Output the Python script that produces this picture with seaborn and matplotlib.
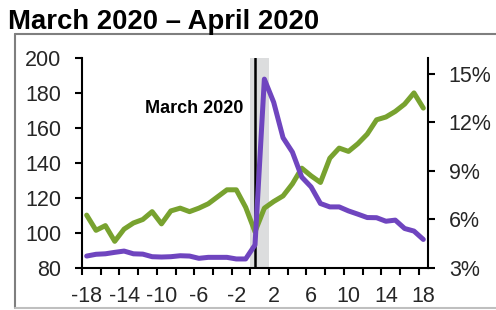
import numpy as np
import pandas as pd
import matplotlib
matplotlib.use("Agg")
import matplotlib.pyplot as plt
import seaborn as sns
from matplotlib.lines import Line2D

# ---- data ----
months = list(range(-18, 19))
index_values = [110, 101.3, 104, 95, 102, 105.5, 107.5, 112, 105, 112.4, 114, 112, 114,
                116.5, 120.5, 124.5, 124.5, 114.5, 100.5, 114, 117.8, 121, 127.9, 136.9,
                132.5, 128.7, 142.6, 148.4, 146.5, 150.9, 156.4, 164.6, 166.2, 169.4,
                173.6, 180, 171.3]
rate_values = [3.71, 3.82, 3.85, 3.94, 4.02, 3.85, 3.83, 3.67, 3.65, 3.67, 3.73, 3.71,
               3.57, 3.63, 3.63, 3.63, 3.53, 3.53, 4.4, 14.69, 13.25, 11.05, 10.16, 8.61,
               8.0, 6.97, 6.76, 6.76, 6.51, 6.31, 6.10, 6.09, 5.87, 5.94, 5.42, 5.26, 4.74]
x_labels = [-18, -14, -10, -6, -2, 2, 6, 10, 14, 18]
left_ticks = [80, 100, 120, 140, 160, 180, 200]
right_ticks = [3, 6, 9, 12, 15]
title = "March 2020 \u2013 April 2020"
annotation = "March 2020"

df = pd.DataFrame({"month": months, "index": index_values, "rate": rate_values})

sns.set_theme(style="white")
plt.rcParams["font.family"] = ["Liberation Sans", "DejaVu Sans"]

W, H = 496, 310
fig = plt.figure(figsize=(W / 100, H / 100), dpi=100)
ax = fig.add_axes([82 / W, 1 - 267.5 / H, (428 - 82) / W, (267.5 - 58) / H])
ax2 = ax.twinx()

green = "#78A22F"
purple = "#6F45BF"

# shaded period and marker line
ax.axvspan(-0.5, 1.5, color="#DCDDDE", lw=0, zorder=0)
ax.axvline(0, color="black", lw=1.8, zorder=1)

sns.lineplot(data=df, x="month", y="index", ax=ax, color=green, lw=3.6, zorder=2)
sns.lineplot(data=df, x="month", y="rate", ax=ax2, color=purple, lw=3.6, zorder=2)

ax.set_xlim(-18.5, 18.5)
ax.set_ylim(80, 200)
ax2.set_ylim(3, 16)

ax.set_xlabel("")
ax.set_ylabel("")
ax2.set_ylabel("")

fs = 15.5
ax.set_yticks(left_ticks)
ax.set_yticklabels([str(v) for v in left_ticks], fontsize=fs)
ax2.set_yticks(right_ticks)
ax2.set_yticklabels([f"{v}%" for v in right_ticks], fontsize=fs)

ax.set_xticks(np.arange(-18.5, 18.0, 2))
ax.set_xticklabels([])
ax.set_xticks(x_labels, minor=True)
ax.set_xticklabels([str(v) for v in x_labels], minor=True, fontsize=fs)
ax.tick_params(axis="x", which="major", direction="out", length=5, width=1.5, color="black", bottom=True)
ax.tick_params(axis="x", which="minor", length=0, pad=13, bottom=True)
ax.tick_params(axis="y", which="major", direction="out", length=5, width=1.5, color="black", left=True, pad=10)
ax2.tick_params(axis="y", which="major", direction="out", length=5, width=1.5, color="black", right=True, pad=10)

for a in (ax, ax2):
    a.spines["top"].set_visible(False)
    for s in ("left", "right", "bottom"):
        a.spines[s].set_color("black")
        a.spines[s].set_linewidth(1.5)
    a.grid(False)
    a.set_facecolor("none")
ax.spines["right"].set_visible(False)
ax2.spines["left"].set_visible(False)
ax2.spines["bottom"].set_visible(False)
ax2.tick_params(axis="x", bottom=False, labelbottom=False)

ax.text(-1.25, 171, annotation, ha="right", va="center", fontsize=13, fontweight="bold", color="black")

# figure frame (Excel chart border)
fig.add_artist(Line2D([15 / W, 15 / W], [1 - 34 / H, 1 - 308 / H], color="#7F7F7F", lw=1.5))
fig.add_artist(Line2D([15 / W, 1.01], [1 - 34 / H, 1 - 34 / H], color="#7F7F7F", lw=1.5))
fig.add_artist(Line2D([15 / W, 1.01], [1 - 308 / H, 1 - 308 / H], color="#BFBFBF", lw=1.5))

fig.text(8 / W, 1 - 29 / H, title, ha="left", va="baseline", fontsize=19.8, fontweight="bold", color="black")

fig.savefig("out.png", dpi=100, facecolor="white")
